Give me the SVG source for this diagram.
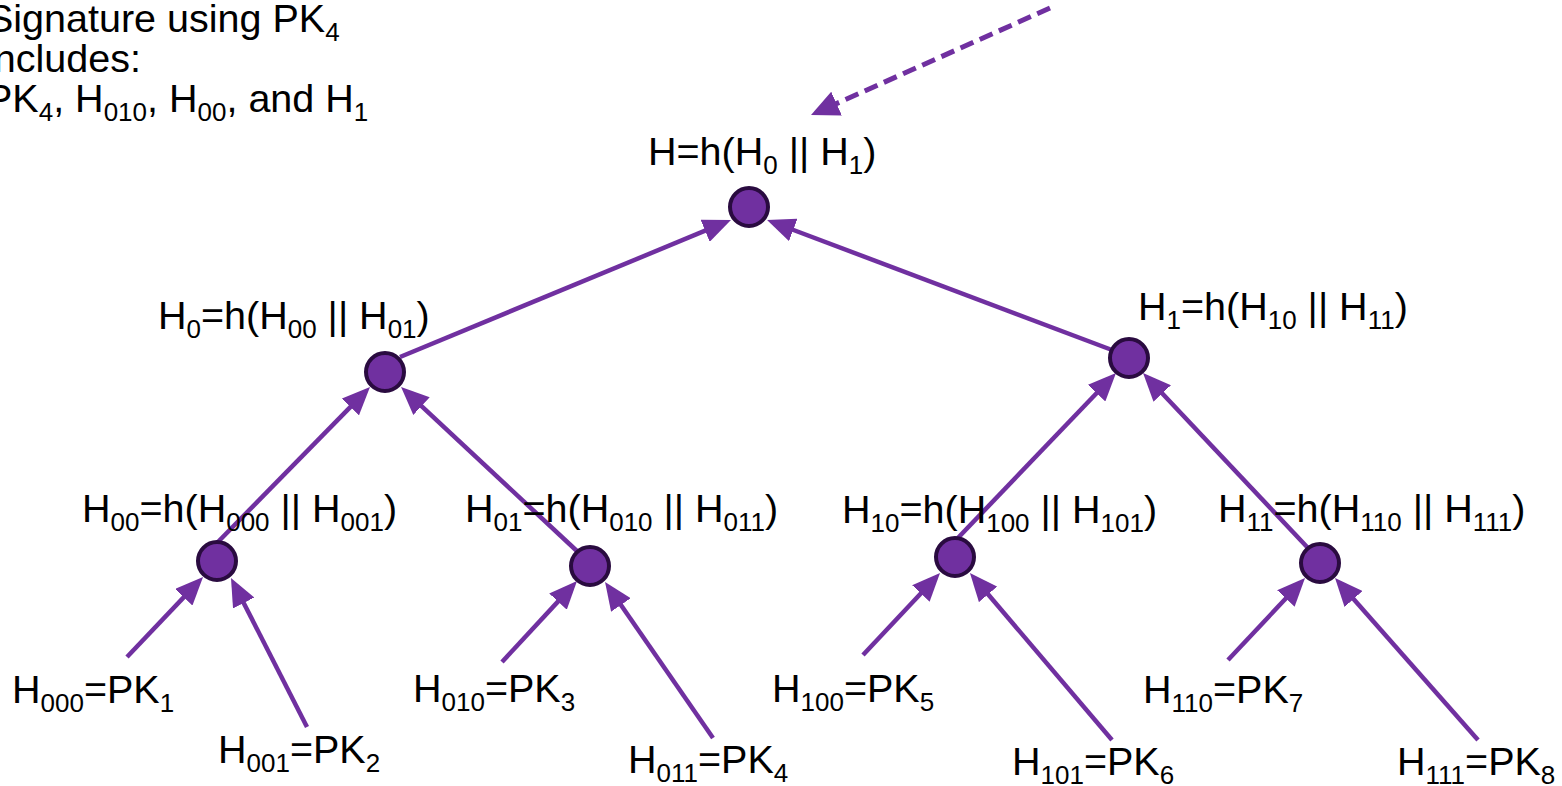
<svg xmlns="http://www.w3.org/2000/svg" width="1562" height="786" viewBox="0 0 1562 786">
<style>
text{font-family:"Liberation Sans",Arial,sans-serif;font-size:39.5px;fill:#000}
.s{font-size:26px}
.e{stroke:#7030A0;stroke-width:4.5;fill:none;marker-end:url(#ah)}
.d{stroke:#7030A0;stroke-width:5;fill:none;stroke-dasharray:14 7;marker-end:url(#ah2)}
.n{fill:#7030A0;stroke:#2A0B40;stroke-width:4}
</style>
<defs>
<marker id="ah" viewBox="0 0 28 24" markerUnits="userSpaceOnUse" markerWidth="28" markerHeight="24" refX="4" refY="12" orient="auto"><path d="M0,0 L28,12 L0,24 z" fill="#7030A0"/></marker>
<marker id="ah2" viewBox="0 0 28 26" markerUnits="userSpaceOnUse" markerWidth="28" markerHeight="26" refX="4" refY="13" orient="auto"><path d="M0,0 L28,13 L0,26 z" fill="#7030A0"/></marker>
</defs>
<rect width="1562" height="786" fill="#fff"/>
<g id="note">
<text x="-13" y="32">Signature using PK<tspan class="s" dy="9">4</tspan></text>
<text x="-15" y="72">includes:</text>
<text x="-14" y="112">PK<tspan class="s" dy="9">4</tspan><tspan dy="-9">, H</tspan><tspan class="s" dy="9">010</tspan><tspan dy="-9">, H</tspan><tspan class="s" dy="9">00</tspan><tspan dy="-9">, and H</tspan><tspan class="s" dy="9">1</tspan></text>
</g>
<g id="connectors">
<line class="d" x1="1050" y1="8" x2="832.9" y2="105.2"/>
<line class="e" x1="400" y1="357" x2="708.8" y2="229.2"/>
<line class="e" x1="1112" y1="350" x2="789.5" y2="228.5"/>
<line class="e" x1="215" y1="545" x2="353.2" y2="404.1"/>
<line class="e" x1="578" y1="552" x2="418.6" y2="403.4"/>
<line class="e" x1="955" y1="541" x2="1099.4" y2="390.3"/>
<line class="e" x1="1308" y1="548" x2="1159.5" y2="390.5"/>
<line class="e" x1="127" y1="657" x2="186.5" y2="594.4"/>
<line class="e" x1="307" y1="727" x2="241.9" y2="599.4"/>
<line class="e" x1="502" y1="662" x2="560.7" y2="598.6"/>
<line class="e" x1="713" y1="738" x2="618.7" y2="601.7"/>
<line class="e" x1="863" y1="655" x2="923.6" y2="590.5"/>
<line class="e" x1="1112" y1="740" x2="985.5" y2="591.3"/>
<line class="e" x1="1228" y1="660" x2="1288.6" y2="595.5"/>
<line class="e" x1="1478" y1="740" x2="1350.9" y2="596"/>
</g>
<g id="root"><circle class="n" cx="749" cy="207" r="19"/><text x="648" y="165">H=h(H<tspan class="s" dy="9">0</tspan><tspan dy="-9"> || H</tspan><tspan class="s" dy="9">1</tspan><tspan dy="-9">)</tspan></text></g>
<g id="h0"><circle class="n" cx="385" cy="372" r="19"/><text x="158" y="329">H<tspan class="s" dy="9">0</tspan><tspan dy="-9">=h(H</tspan><tspan class="s" dy="9">00</tspan><tspan dy="-9"> || H</tspan><tspan class="s" dy="9">01</tspan><tspan dy="-9">)</tspan></text></g>
<g id="h1"><circle class="n" cx="1129" cy="358" r="19"/><text x="1138" y="320">H<tspan class="s" dy="9">1</tspan><tspan dy="-9">=h(H</tspan><tspan class="s" dy="9">10</tspan><tspan dy="-9"> || H</tspan><tspan class="s" dy="9">11</tspan><tspan dy="-9">)</tspan></text></g>
<g id="h00"><circle class="n" cx="217" cy="561" r="19"/><text x="82" y="522">H<tspan class="s" dy="9">00</tspan><tspan dy="-9">=h(H</tspan><tspan class="s" dy="9">000</tspan><tspan dy="-9"> || H</tspan><tspan class="s" dy="9">001</tspan><tspan dy="-9">)</tspan></text></g>
<g id="h01"><circle class="n" cx="590" cy="566" r="19"/><text x="465" y="522">H<tspan class="s" dy="9">01</tspan><tspan dy="-9">=h(H</tspan><tspan class="s" dy="9">010</tspan><tspan dy="-9"> || H</tspan><tspan class="s" dy="9">011</tspan><tspan dy="-9">)</tspan></text></g>
<g id="h10"><circle class="n" cx="955" cy="557" r="19"/><text x="842" y="523">H<tspan class="s" dy="9">10</tspan><tspan dy="-9">=h(H</tspan><tspan class="s" dy="9">100</tspan><tspan dy="-9"> || H</tspan><tspan class="s" dy="9">101</tspan><tspan dy="-9">)</tspan></text></g>
<g id="h11"><circle class="n" cx="1320" cy="563" r="19"/><text x="1218" y="522">H<tspan class="s" dy="9">11</tspan><tspan dy="-9">=h(H</tspan><tspan class="s" dy="9">110</tspan><tspan dy="-9"> || H</tspan><tspan class="s" dy="9">111</tspan><tspan dy="-9">)</tspan></text></g>
<g id="h000"><text x="12" y="703">H<tspan class="s" dy="9">000</tspan><tspan dy="-9">=PK</tspan><tspan class="s" dy="9">1</tspan></text></g>
<g id="h001"><text x="218" y="763">H<tspan class="s" dy="9">001</tspan><tspan dy="-9">=PK</tspan><tspan class="s" dy="9">2</tspan></text></g>
<g id="h010"><text x="413" y="702">H<tspan class="s" dy="9">010</tspan><tspan dy="-9">=PK</tspan><tspan class="s" dy="9">3</tspan></text></g>
<g id="h011"><text x="628" y="773">H<tspan class="s" dy="9">011</tspan><tspan dy="-9">=PK</tspan><tspan class="s" dy="9">4</tspan></text></g>
<g id="h100"><text x="772" y="702">H<tspan class="s" dy="9">100</tspan><tspan dy="-9">=PK</tspan><tspan class="s" dy="9">5</tspan></text></g>
<g id="h101"><text x="1012" y="775">H<tspan class="s" dy="9">101</tspan><tspan dy="-9">=PK</tspan><tspan class="s" dy="9">6</tspan></text></g>
<g id="h110"><text x="1143" y="703">H<tspan class="s" dy="9">110</tspan><tspan dy="-9">=PK</tspan><tspan class="s" dy="9">7</tspan></text></g>
<g id="h111"><text x="1397" y="775">H<tspan class="s" dy="9">111</tspan><tspan dy="-9">=PK</tspan><tspan class="s" dy="9">8</tspan></text></g>
</svg>
